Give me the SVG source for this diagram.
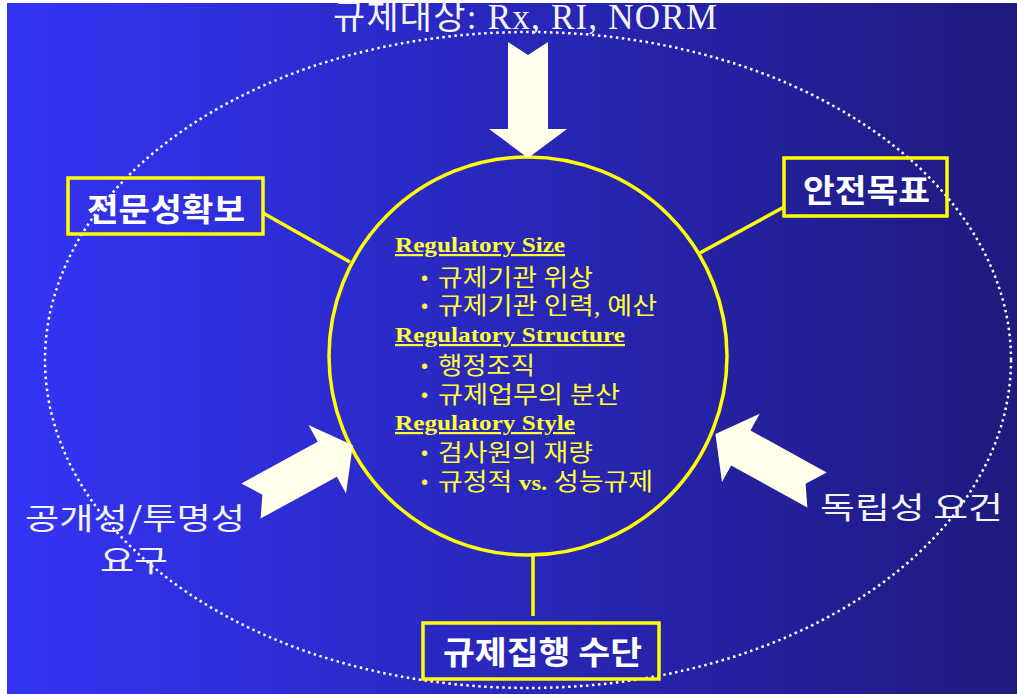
<svg xmlns="http://www.w3.org/2000/svg" width="1017" height="694" viewBox="0 0 1017 694">
<defs>
<linearGradient id="bg" x1="7" y1="0" x2="1017" y2="0" gradientUnits="userSpaceOnUse">
<stop offset="0" stop-color="#3434F6"/>
<stop offset="1" stop-color="#1E1A7E"/>
</linearGradient>
<path id="arr" d="M-20,0 L0,13 L20,0 L20,87 L39,87 L0,116 L-39,87 L-20,87 Z"/>
</defs>
<style>
.box{fill:none;stroke:#FFFF00;stroke-width:3.5}
.con{stroke:#FFFF00;stroke-width:3.5;fill:none}
.arrow{fill:#FFFFEA}
.lbl{font-family:"Noto Sans CJK KR","Liberation Sans",sans-serif;fill:#F4F4F4;font-size:30px}
.blbl{font-family:"Noto Sans CJK KR","Liberation Sans",sans-serif;fill:#FFFFFF;font-size:32px;font-weight:bold}
.hd{font-family:"Liberation Serif","Noto Sans CJK KR",serif;fill:#FFFF33;font-size:22px;font-weight:bold;text-decoration:underline}
.it{font-family:"Liberation Serif","Noto Sans CJK KR",serif;fill:#FFFF33;font-size:24px}
.bul{font-family:"Liberation Sans",sans-serif;fill:#FFFF33;font-size:20px}
</style>
<rect x="0" y="0" width="1017" height="694" fill="#FFFFFF"/>
<rect x="7" y="3" width="1010" height="691" fill="url(#bg)"/>
<ellipse cx="528" cy="360" rx="483" ry="328" fill="none" stroke="#FFFFFF" stroke-width="2.5" stroke-dasharray="2.5 3.5"/>

<g id="connectors">
<line class="con" x1="263" y1="213" x2="350" y2="262"/>
<line class="con" x1="784" y1="207" x2="698" y2="254"/>
<line class="con" x1="533" y1="553" x2="533" y2="616"/>
</g>

<g id="center">
<circle cx="528" cy="356" r="199" fill="none" stroke="#FFFF00" stroke-width="3.5"/>
<text class="hd" x="395" y="252" textLength="170" lengthAdjust="spacingAndGlyphs">Regulatory Size</text>
<text class="bul" x="421" y="285">•</text>
<text class="it" x="438" y="286" textLength="155" lengthAdjust="spacingAndGlyphs">규제기관 위상</text>
<text class="bul" x="421" y="313">•</text>
<text class="it" x="438" y="314" textLength="219" lengthAdjust="spacingAndGlyphs">규제기관 인력, 예산</text>
<text class="hd" x="395" y="342" textLength="230" lengthAdjust="spacingAndGlyphs">Regulatory Structure</text>
<text class="bul" x="421" y="373">•</text>
<text class="it" x="438" y="374" textLength="97" lengthAdjust="spacingAndGlyphs">행정조직</text>
<text class="bul" x="421" y="402">•</text>
<text class="it" x="438" y="403" textLength="182" lengthAdjust="spacingAndGlyphs">규제업무의 분산</text>
<text class="hd" x="395" y="430" textLength="180" lengthAdjust="spacingAndGlyphs">Regulatory Style</text>
<text class="bul" x="421" y="460">•</text>
<text class="it" x="438" y="461" textLength="155" lengthAdjust="spacingAndGlyphs">검사원의 재량</text>
<text class="bul" x="421" y="489">•</text>
<text class="it" x="438" y="490" textLength="215" lengthAdjust="spacingAndGlyphs">규정적 <tspan font-weight="bold" font-size="22">vs.</tspan> 성능규제</text>
</g>

<g id="top-target">
<text x="333" y="29" font-family="Liberation Serif, Noto Sans CJK KR, serif" font-size="35" fill="#F4F4F4" textLength="384">규제대상: Rx, RI, NORM</text>
<use href="#arr" class="arrow" transform="translate(528,42)"/>
</g>

<g id="expertise">
<rect class="box" x="68" y="178" width="195" height="56"/>
<text class="blbl" x="87" y="221" textLength="158" lengthAdjust="spacingAndGlyphs">전문성확보</text>
</g>

<g id="safety-goal">
<rect class="box" x="784" y="158" width="163" height="58"/>
<text class="blbl" x="803" y="202" textLength="127" lengthAdjust="spacingAndGlyphs">안전목표</text>
</g>

<g id="enforcement">
<rect class="box" x="423" y="623" width="236" height="56"/>
<text class="blbl" x="443" y="664" textLength="199" lengthAdjust="spacingAndGlyphs">규제집행 수단</text>
</g>

<g id="openness">
<use href="#arr" class="arrow" transform="translate(251,501) rotate(-118.7)"/>
<text class="lbl" x="25" y="529" textLength="220" lengthAdjust="spacingAndGlyphs">공개성/투명성</text>
<text class="lbl" x="100" y="571" textLength="68" lengthAdjust="spacingAndGlyphs">요구</text>
</g>

<g id="independence">
<use href="#arr" class="arrow" transform="translate(817,490) rotate(118.9)"/>
<text class="lbl" x="820" y="518" textLength="183" lengthAdjust="spacingAndGlyphs">독립성 요건</text>
</g>
</svg>
